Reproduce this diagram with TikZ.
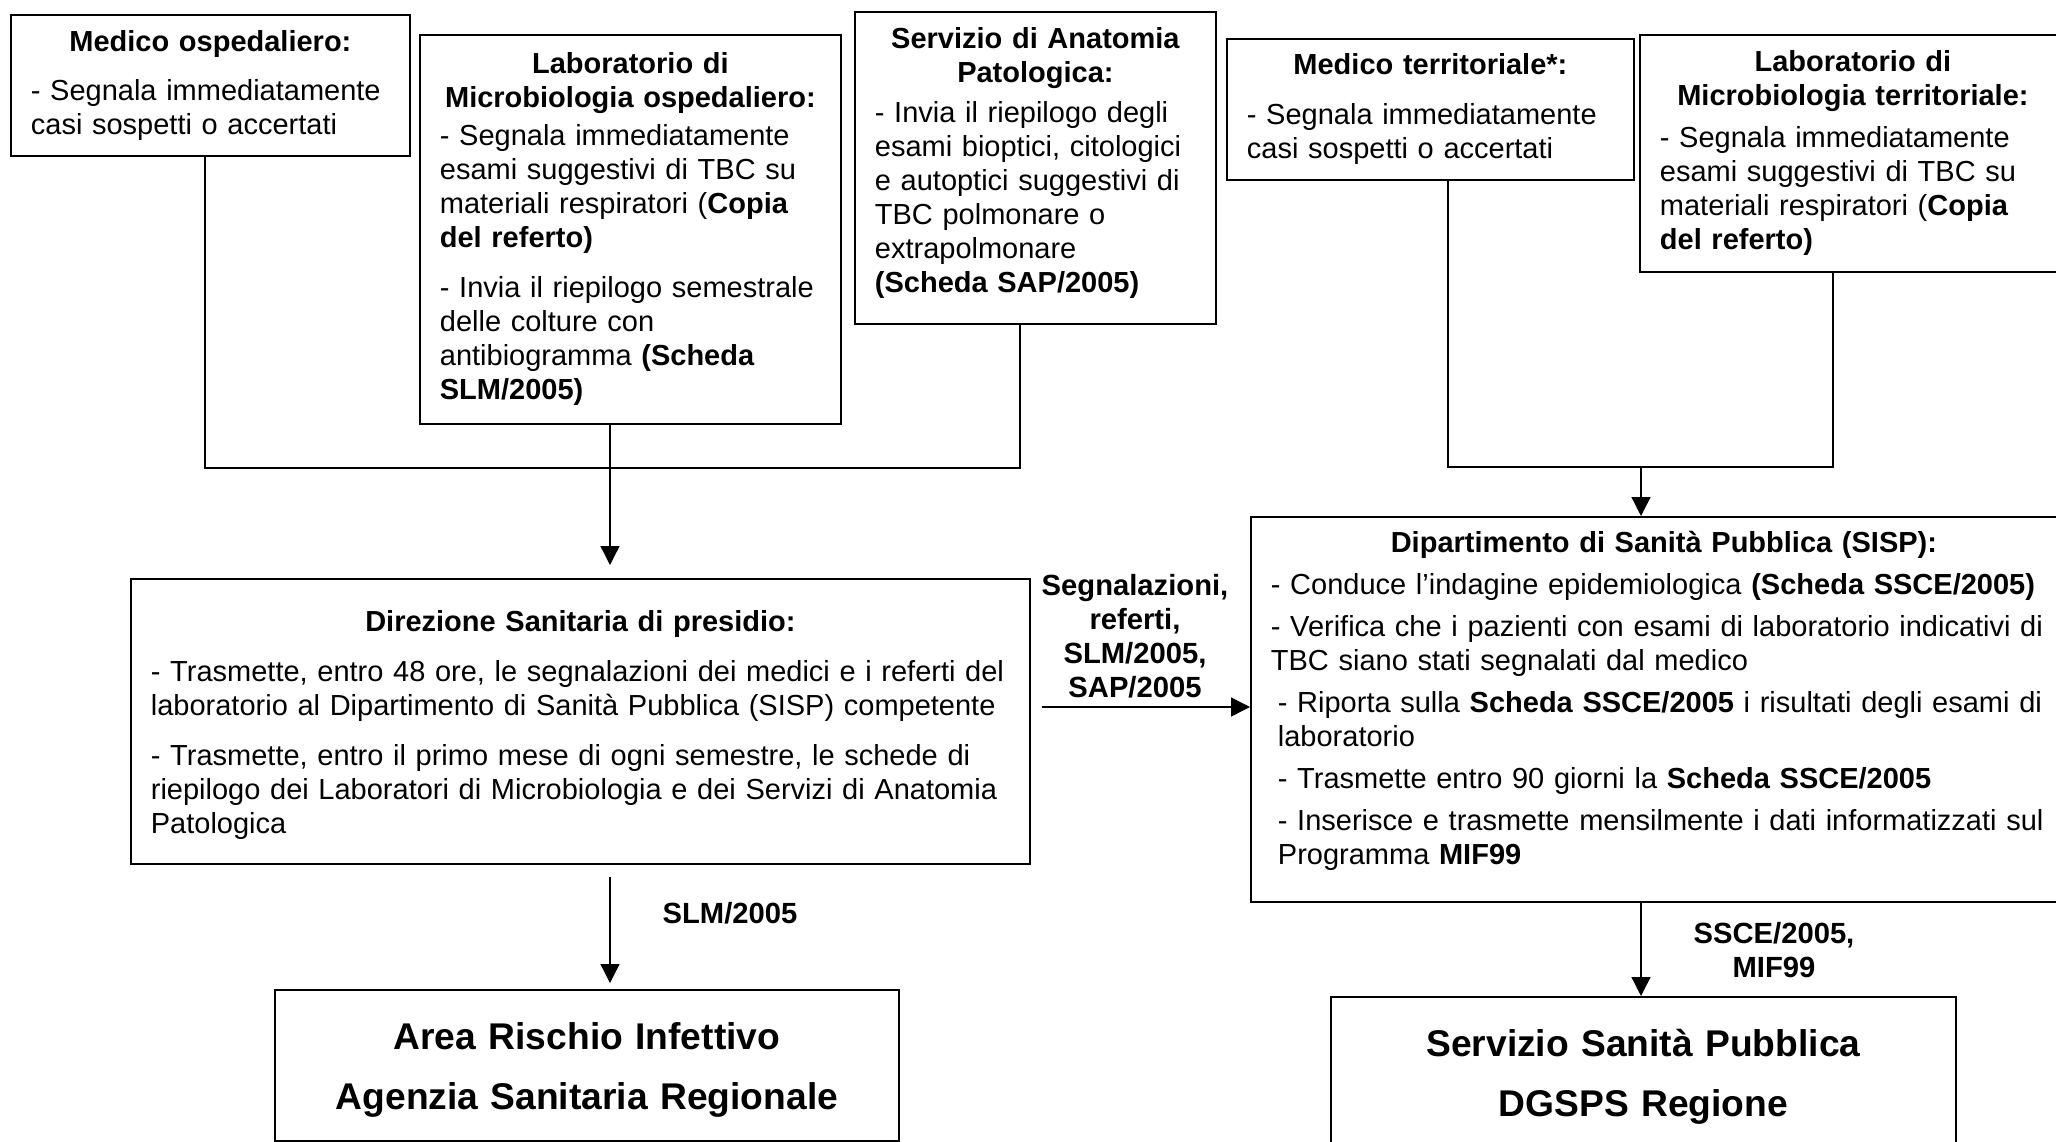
\documentclass[tikz,border=0pt]{standalone}
\usepackage{fontspec}
\setmainfont{Liberation Sans}
\usetikzlibrary{arrows.meta}

% titolo centrato in grassetto, poi testo a sinistra
\newcommand{\hd}[2][4pt]{{\centering\bfseries #2\par}\vspace{#1}\rightskip=-15pt plus 1fil\relax}

\begin{document}
\begin{tikzpicture}[
    x=0.5pt, y=-0.5pt,
    box/.style = {draw, line width=0.9pt, anchor=north west, align=left,
        inner xsep=10pt, inner ysep=0pt, font=\fontsize{14.5}{17}\selectfont},
    big/.style = {draw, line width=0.9pt, anchor=north west, align=center, text width=290pt,
        font=\fontsize{18.6}{30}\selectfont\bfseries},
    etich/.style = {align=center, inner sep=0pt, font=\fontsize{14.6}{17}\selectfont\bfseries},
    linea/.style = {line width=0.65pt},
    freccia/.style = {line width=0.65pt, -{Triangle[length=9.5pt,width=9.5pt]}}
]
    \useasboundingbox (0,0) rectangle (2056,1141);

    % --- Livello ospedaliero ---
    \node[box, minimum width=199.5pt, minimum height=70.5pt, text width=179.5pt] (medosp) at (10,14)
        {\hd[7.5pt]{Medico ospedaliero:}
         - Segnala immediatamente\\
         casi sospetti o accertati};
    \node[box, minimum width=210.5pt, minimum height=194.5pt, text width=190.5pt] (labosp) at (419,34)
        {\hd[2pt]{Laboratorio di\\Microbiologia ospedaliero:}
         - Segnala immediatamente\\
         esami suggestivi di TBC su\\
         materiali respiratori (\textbf{Copia}\\
         \textbf{del referto)}\\[8pt]
         - Invia il riepilogo semestrale\\
         delle colture con\\
         antibiogramma \textbf{(Scheda}\\
         \textbf{SLM/2005)}};
    \node[box, minimum width=180.5pt, minimum height=156pt, text width=160.5pt] (anat) at (854,11)
        {\hd[3pt]{Servizio di Anatomia\\Patologica:}
         - Invia il riepilogo degli\\
         esami bioptici, citologici\\
         e autoptici suggestivi di\\
         TBC polmonare o\\
         extrapolmonare\\
         \textbf{(Scheda SAP/2005)}\par\kern4.5pt};

    % --- Livello territoriale ---
    \node[box, minimum width=203.5pt, minimum height=70.5pt, text width=183.5pt] (medterr) at (1226,38)
        {\hd[8pt]{Medico territoriale*:}
         - Segnala immediatamente\\
         casi sospetti o accertati};
    \node[box, minimum width=213pt, minimum height=118.5pt, text width=193pt] (labterr) at (1639,34)
        {\hd[4pt]{Laboratorio di\\Microbiologia territoriale:}
         - Segnala immediatamente\\
         esami suggestivi di TBC su\\
         materiali respiratori (\textbf{Copia}\\
         \textbf{del referto)}};

    % --- Direzione e SISP ---
    \node[box, minimum width=449.5pt, minimum height=142.5pt, text width=429.5pt] (direz) at (130,578)
        {\hd[8pt]{Direzione Sanitaria di presidio:}
         - Trasmette, entro 48 ore, le segnalazioni dei medici e i referti del\\
         laboratorio al Dipartimento di Sanità Pubblica (SISP) competente\\[8pt]
         - Trasmette, entro il primo mese di ogni semestre, le schede di\\
         riepilogo dei Laboratori di Microbiologia e dei Servizi di Anatomia\\
         Patologica\par\kern-4pt};
    \node[box, minimum width=413pt, minimum height=192.5pt, text width=393pt] (sisp) at (1250,516)
        {\hd[3.8pt]{Dipartimento di Sanità Pubblica (SISP):}
         - Conduce l’indagine epidemiologica \textbf{(Scheda SSCE/2005)}\\[4pt]
         - Verifica che i pazienti con esami di laboratorio indicativi di\\
         TBC siano stati segnalati dal medico\\[4pt]
         \hspace*{3.5pt}- Riporta sulla \textbf{Scheda SSCE/2005} i risultati degli esami di\\
         \hspace*{3.5pt}laboratorio\\[4pt]
         \hspace*{3.5pt}- Trasmette entro 90 giorni la \textbf{Scheda SSCE/2005}\\[4pt]
         \hspace*{3.5pt}- Inserisce e trasmette mensilmente i dati informatizzati sul\\
         \hspace*{3.5pt}Programma \textbf{MIF99}\par\kern8.5pt};

    % --- Livello regionale ---
    \node[big, minimum width=312pt, minimum height=75.5pt] (area) at (274,989)
        {Area Rischio Infettivo\\Agenzia Sanitaria Regionale\par\kern-5pt};
    \node[big, minimum width=312.5pt, minimum height=80pt] (servizio) at (1330,996)
        {Servizio Sanità Pubblica\\DGSPS Regione};

    % --- Collegamenti ---
    \coordinate (lbus) at (610,468);
    \coordinate (rbus) at (1641,467);
    \coordinate (dafrom) at (1042,707);

    \draw[linea] ([xshift=-2.75pt]medosp.south) |- (lbus) -| ([xshift=-7.75pt]anat.south);
    \draw[freccia, shorten >=6.5pt] (labosp.south -| lbus) -- (lbus |- direz.north);
    \draw[linea] ([xshift=8.75pt]medterr.south) |- (rbus) -| ([xshift=-10pt]labterr.south);
    \draw[freccia] (rbus) -- (rbus |- sisp.north);
    \draw[freccia] (dafrom) -- (dafrom -| sisp.west);
    \draw[freccia, shorten <=6pt, shorten >=3pt] (direz.south -| lbus) -- (area.north -| lbus);
    \draw[freccia] (sisp.south -| rbus) -- (servizio.north -| rbus);

    \node[etich] (lsegn) at (1135,636) {Segnalazioni,\\referti,\\SLM/2005,\\SAP/2005};
    \node[etich] (lslm) at (730,913) {SLM/2005};
    \node[etich] (lssce) at (1774,950) {SSCE/2005,\\MIF99};
\end{tikzpicture}
\end{document}
